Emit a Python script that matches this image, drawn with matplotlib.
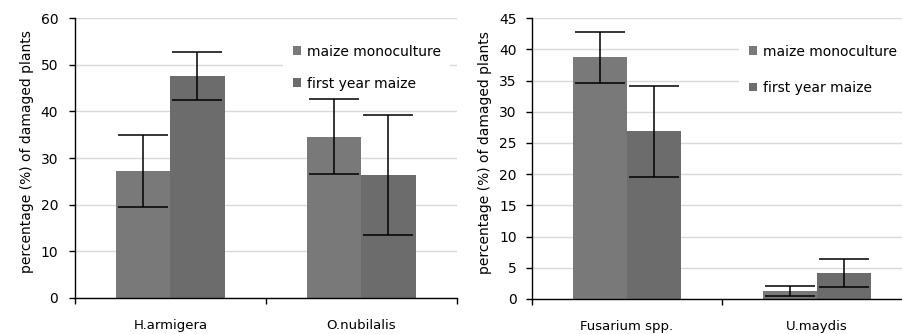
import numpy as np
import matplotlib
matplotlib.use('Agg')
import matplotlib.pyplot as plt

# pests (left) and diseases (right), percentage of damaged plants
pests = ['H.armigera', 'O.nubilalis']
pest_mono = [27.2, 34.6]
pest_mono_err = [7.7, 8.1]
pest_first = [47.6, 26.4]
pest_first_err = [5.2, 12.9]

diseases = ['Fusarium spp.', 'U.maydis']
dis_mono = [38.7, 1.3]
dis_mono_err = [4.1, 0.75]
dis_first = [26.9, 4.2]
dis_first_err = [7.3, 2.2]

series_names = ['maize monoculture', 'first year maize']
c_mono = '#797979'
c_first = '#6c6c6c'

plt.rcParams['font.family'] = ['DejaVu Sans']
plt.rcParams['font.size'] = 10

fig = plt.figure(figsize=(9.02, 3.34), dpi=100)
ax1 = fig.add_axes([0.0831, 0.1078, 0.4235, 0.838])
ax2 = fig.add_axes([0.5898, 0.1048, 0.4213, 0.841])


def draw(ax, cats, mono, mono_err, first, first_err, ymax, ystep, legend_y, spacing, ypad):
    x = np.arange(len(cats)) + 0.5
    w = 0.283
    ax.bar(x - w / 2, mono, w, color=c_mono, label=series_names[0], zorder=2)
    ax.bar(x + w / 2, first, w, color=c_first, label=series_names[1], zorder=2)
    # error bars drawn above the legend box so caps are never hidden
    ax.errorbar(x - w / 2, mono, yerr=mono_err, fmt='none', ecolor='black',
                elinewidth=1.1, capsize=18, capthick=1.1, zorder=6)
    ax.errorbar(x + w / 2, first, yerr=first_err, fmt='none', ecolor='black',
                elinewidth=1.1, capsize=18, capthick=1.1, zorder=6)
    ax.set_xlim(0, len(cats))
    ax.set_ylim(0, ymax)
    ax.set_yticks(np.arange(0, ymax + 0.1, ystep))
    ax.set_xticks(x)
    ax.set_xticklabels(cats, fontsize=9.5)
    ax.set_xticks(np.arange(len(cats) + 1), minor=True)
    ax.tick_params(axis='x', which='major', length=0, pad=15)
    ax.tick_params(axis='x', which='minor', length=4, direction='out', width=1)
    ax.tick_params(axis='y', length=4, width=1, pad=ypad, labelsize=10)
    ax.grid(axis='y', color='#d9d9d9', linewidth=1, zorder=0)
    ax.set_axisbelow(True)
    for s in ['top', 'right']:
        ax.spines[s].set_visible(False)
    ax.spines['left'].set_linewidth(1)
    ax.spines['bottom'].set_linewidth(1)
    ax.set_ylabel('percentage (%) of damaged plants', fontsize=10, labelpad=5)
    ax.yaxis.label.set_y(0.522)
    leg = ax.legend(loc='upper left', bbox_to_anchor=(0.545, legend_y), frameon=True,
                    framealpha=1, edgecolor='white', fancybox=False,
                    handlelength=0.6, handleheight=0.6, handletextpad=0.4,
                    labelspacing=spacing, fontsize=10, borderpad=0.7,
                    borderaxespad=0)
    leg.get_frame().set_linewidth(0)
    return ax


draw(ax1, pests, pest_mono, pest_mono_err, pest_first, pest_first_err, 60, 10, 0.94, 1.3, 8)
draw(ax2, diseases, dis_mono, dis_mono_err, dis_first, dis_first_err, 45, 5, 0.94, 1.6, 7)

fig.savefig('out.png', dpi=100)
